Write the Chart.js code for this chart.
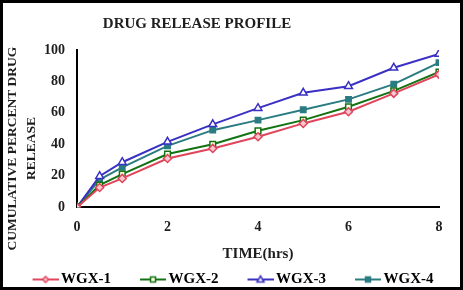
<!DOCTYPE html>
<html><head><meta charset="utf-8">
<script src="https://cdn.jsdelivr.net/npm/chart.js@4"></script>
<style>
html,body{margin:0;padding:0;background:#fff;}
#wrap{width:463px;height:290px;box-sizing:border-box;border:3px solid #000;position:relative;overflow:hidden;}
canvas{display:block;}
</style></head><body>
<div id="wrap"><canvas id="c" width="457" height="284"></canvas></div>
<script>
const times = [0, 0.5, 1, 2, 3, 4, 5, 6, 7, 8];
const wgx1 = [0, 12.5, 18.3, 31, 37.4, 44.8, 53.3, 60.7, 72.4, 84.5];
const wgx2 = [0, 14, 21, 33.8, 40, 48.6, 55.4, 63.9, 74, 86];
const wgx3 = [0, 19.7, 28.6, 41.6, 52.7, 63, 72.8, 77, 88.7, 97.5];
const wgx4 = [0, 17.6, 25.3, 39, 49, 55.4, 62, 68.6, 78.3, 92];
const seriesNames = ['WGX-1', 'WGX-2', 'WGX-3', 'WGX-4'];
const xTicks = [0, 2, 4, 6, 8];
const yTicks = [0, 20, 40, 60, 80, 100];
const chartTitle = 'DRUG RELEASE PROFILE';
const yTitle = ['CUMULATIVE PERCENT DRUG', 'RELEASE'];
const xTitle = 'TIME(hrs)';

const FONT = "'Liberation Serif', 'Times New Roman', serif";
const INK = '#1e1e1e';
const styles = [
  {color:'#e0455c', point:'rectRot', fill:'#f6c9cf', r:4},
  {color:'#137313', point:'rect', fill:'#fdfde8', r:4},
  {color:'#3b30c4', point:'triangle', fill:'#ffffff', r:4.5},
  {color:'#2a7c82', point:'rect', fill:'#2a7c82', r:3.8}
];
const values = [wgx1, wgx2, wgx3, wgx4];
const PSW = 44; // legend point-style box width

function legendIcon(s){
  const cv = document.createElement('canvas');
  const W = PSW + 10;
  cv.width = W; cv.height = 12;
  const g = cv.getContext('2d');
  const x0 = W - 26, cx = W - 13;
  g.strokeStyle = s.color; g.lineWidth = 2;
  g.beginPath(); g.moveTo(x0,6); g.lineTo(W,6); g.stroke();
  g.fillStyle = s.fill; g.lineWidth = 1.5;
  g.beginPath();
  if (s.point === 'rectRot'){ g.moveTo(cx,3); g.lineTo(cx+3,6); g.lineTo(cx,9); g.lineTo(cx-3,6); g.closePath(); }
  else if (s.point === 'triangle'){ g.moveTo(cx,2.5); g.lineTo(cx+3.5,8.5); g.lineTo(cx-3.5,8.5); g.closePath(); }
  else { g.rect(cx-2.5,3.5,5,5); }
  g.fill(); g.stroke();
  return cv;
}
const icons = styles.map(legendIcon);

const textPlugin = {
  id:'textDraw',
  afterDraw(chart){
    const ctx = chart.ctx;
    const a = chart.chartArea;
    ctx.save();
    ctx.fillStyle = INK;
    ctx.textBaseline = 'middle';
    ctx.textAlign = 'center';
    ctx.font = "bold 15px " + FONT;
    ctx.fillText(chartTitle, a.left + 120, 21);
    ctx.font = "bold 13.5px " + FONT;
    const cy = (a.top + a.bottom) / 2 + 20;
    [10, 29].forEach((x, i) => {
      ctx.save();
      ctx.translate(x, cy);
      ctx.rotate(-Math.PI / 2);
      ctx.fillText(yTitle[i], 0, 0);
      ctx.restore();
    });
    ctx.restore();
  }
};

new Chart(document.getElementById('c'), {
  type:'line',
  data:{
    datasets: values.map((v,i)=>({
      label: seriesNames[i],
      data: v.map((y,j)=>({x:times[j], y:y})),
      borderColor: styles[i].color,
      backgroundColor: styles[i].fill,
      pointBorderColor: styles[i].color,
      pointBackgroundColor: styles[i].fill,
      pointStyle: styles[i].point,
      pointRadius: styles[i].r,
      pointBorderWidth: 1.5,
      borderWidth: 2,
      tension: 0
    }))
  },
  plugins:[textPlugin],
  options:{
    responsive:false,
    animation:false,
    layout:{padding:{top:47, right:0, left:-20, bottom:-10}},
    plugins:{
      title:{display:false},
      tooltip:{enabled:false},
      legend:{
        position:'bottom',
        labels:{
          usePointStyle:true,
          pointStyleWidth: PSW,
          color:INK,
          font:{family:FONT, size:15, weight:'bold'},
          padding:6,
          generateLabels(chart){
            return chart.data.datasets.map((d,i)=>({
              text:d.label, pointStyle:icons[i], datasetIndex:i,
              fillStyle:d.borderColor, strokeStyle:d.borderColor, lineWidth:0, hidden:false
            }));
          }
        }
      }
    },
    scales:{
      x:{
        type:'linear', min:0, max:8,
        afterBuildTicks(ax){ ax.ticks = xTicks.map(v=>({value:v})); },
        afterFit(ax){ ax.paddingRight = 21; },
        grid:{display:false, drawTicks:false},
        border:{display:true, color:'#000', width:2},
        ticks:{color:INK, font:{family:FONT, size:14, weight:'bold'}, padding:12},
        title:{display:true, text:xTitle, color:INK, font:{family:FONT, size:15, weight:'bold'}, padding:{top:-3,bottom:3}}
      },
      y:{
        min:0, max:100,
        afterBuildTicks(ax){ ax.ticks = yTicks.map(v=>({value:v})); },
        afterFit(ax){ ax.width = 94; },
        grid:{display:false, drawTicks:false},
        border:{display:true, color:'#000', width:2},
        ticks:{color:INK, font:{family:FONT, size:14, weight:'bold'}, padding:12},
        title:{display:false}
      }
    }
  }
});
</script>
</body></html>
